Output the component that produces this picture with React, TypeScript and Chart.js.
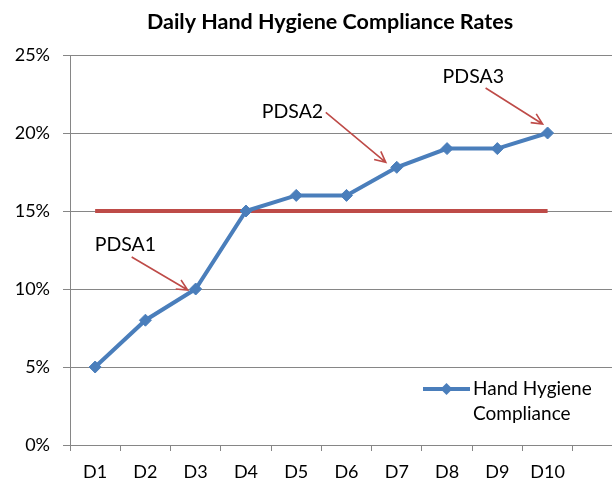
import React, { useEffect, useRef } from 'react';
import { Chart, registerables } from 'chart.js';

Chart.register(...registerables);

// ---- data ----
const categories = ['D1', 'D2', 'D3', 'D4', 'D5', 'D6', 'D7', 'D8', 'D9', 'D10'];
const complianceValues = [5, 8, 10, 15, 16, 16, 17.8, 19, 19, 20];
const targetValues = [15, 15, 15, 15, 15, 15, 15, 15, 15, 15];
const yTickValues = [0, 5, 10, 15, 20, 25];
const titleText = 'Daily Hand Hygiene Compliance Rates';
const seriesLabel = 'Hand Hygiene Compliance';
const legendLines = ['Hand Hygiene', 'Compliance'];
const annotationLabels = ['PDSA1', 'PDSA2', 'PDSA3'];
const annotationCategories = ['D3', 'D7', 'D10'];

// ---- styles / layout ----
const FONT = 'Lato';
const BLUE = '#4A7EBB';
const RED = '#BE4B48';
const GRID = '#868686';
// offsets relative to the annotated point: text (left, baseline), arrow start, arrow tip
const annotationOffsets = [
  { tx: -101, ty: -38, sx: -64, sy: -32, ex: -8, ey: 1 },
  { tx: -135, ty: -49, sx: -71, sy: -55, ex: -11, ey: -5 },
  { tx: -105, ty: -50, sx: -62, sy: -45, ex: -5, ey: -9 },
];

const annotationPlugin = {
  id: 'pdsaAnnotations',
  afterDatasetsDraw(chart: any) {
    const ctx = chart.ctx;
    const meta = chart.getDatasetMeta(0);
    ctx.save();
    annotationLabels.forEach((label, i) => {
      const idx = categories.indexOf(annotationCategories[i]);
      const pt = meta.data[idx];
      if (!pt) return;
      const o = annotationOffsets[i];
      ctx.fillStyle = '#000';
      ctx.font = `19.5px ${FONT}`;
      ctx.textAlign = 'left';
      ctx.textBaseline = 'alphabetic';
      ctx.fillText(label, pt.x + o.tx, pt.y + o.ty);
      const sx = pt.x + o.sx, sy = pt.y + o.sy, ex = pt.x + o.ex, ey = pt.y + o.ey;
      ctx.strokeStyle = RED;
      ctx.lineWidth = 1.6;
      ctx.beginPath();
      ctx.moveTo(sx, sy);
      ctx.lineTo(ex, ey);
      const ang = Math.atan2(ey - sy, ex - sx);
      const hl = 12, ha = 0.45;
      ctx.moveTo(ex - hl * Math.cos(ang - ha), ey - hl * Math.sin(ang - ha));
      ctx.lineTo(ex, ey);
      ctx.lineTo(ex - hl * Math.cos(ang + ha), ey - hl * Math.sin(ang + ha));
      ctx.stroke();
    });
    ctx.restore();
  },
};

const legendPlugin = {
  id: 'insideLegend',
  afterDraw(chart: any) {
    const ctx = chart.ctx;
    const a = chart.chartArea;
    const x0 = a.right - 200;
    const x1 = a.right - 153;
    const ly = a.bottom - 56;
    ctx.save();
    ctx.strokeStyle = BLUE;
    ctx.lineWidth = 4;
    ctx.beginPath();
    ctx.moveTo(x0, ly);
    ctx.lineTo(x1, ly);
    ctx.stroke();
    const cx = (x0 + x1) / 2;
    const r = 6;
    ctx.fillStyle = BLUE;
    ctx.beginPath();
    ctx.moveTo(cx, ly - r);
    ctx.lineTo(cx + r, ly);
    ctx.lineTo(cx, ly + r);
    ctx.lineTo(cx - r, ly);
    ctx.closePath();
    ctx.fill();
    ctx.fillStyle = '#000';
    ctx.font = `19px ${FONT}`;
    ctx.textAlign = 'left';
    ctx.textBaseline = 'alphabetic';
    legendLines.forEach((t, i) => {
      ctx.fillText(t, a.right - 150, a.bottom - 50 + i * 25);
    });
    ctx.restore();
  },
};

export default function App() {
  const ref = useRef<HTMLCanvasElement | null>(null);

  useEffect(() => {
    if (!ref.current) return;
    const chart = new Chart(ref.current, {
      type: 'line',
      data: {
        labels: [...categories, ''],
        datasets: [
          {
            label: seriesLabel,
            data: complianceValues,
            borderColor: BLUE,
            backgroundColor: BLUE,
            borderWidth: 4,
            pointStyle: 'rectRot',
            pointRadius: 6,
            pointBorderWidth: 1,
            pointBackgroundColor: BLUE,
            pointBorderColor: BLUE,
            tension: 0,
            fill: false,
          },
          {
            label: 'Target',
            data: targetValues,
            borderColor: RED,
            backgroundColor: RED,
            borderWidth: 4,
            pointRadius: 0,
            tension: 0,
            fill: false,
          },
        ],
      },
      options: {
        responsive: false,
        animation: false,
        devicePixelRatio: 1,
        layout: { padding: 0 },
        plugins: {
          legend: { display: false },
          tooltip: { enabled: false },
          title: {
            display: true,
            text: titleText,
            color: '#000',
            font: { family: FONT, size: 21.5, weight: 'bold', lineHeight: 1.2 },
            padding: { top: 9, bottom: 20.2 },
          },
        },
        scales: {
          x: {
            type: 'category',
            offset: true,
            grid: {
              display: true,
              drawOnChartArea: false,
              drawTicks: true,
              tickLength: 6,
              offset: true,
              color: GRID,
              lineWidth: 1,
            },
            border: { display: true, color: GRID, width: 1 },
            ticks: {
              color: '#000',
              font: { family: FONT, size: 18 },
              padding: 10,
              maxRotation: 0,
              autoSkip: false,
            },
            afterFit: (s: any) => {
              s.height = 36;
            },
          },
          y: {
            type: 'linear',
            min: yTickValues[0],
            max: yTickValues[yTickValues.length - 1],
            afterBuildTicks: (s: any) => {
              s.ticks = yTickValues.map((v) => ({ value: v }));
            },
            grid: {
              color: GRID,
              lineWidth: 1,
              drawTicks: true,
              tickLength: 7,
            },
            border: { display: true, color: GRID, width: 1 },
            ticks: {
              color: '#000',
              font: { family: FONT, size: 18 },
              padding: 13,
              callback: (v: any) => `${v}%`,
            },
            afterFit: (s: any) => {
              s.width = 70;
            },
          },
          yRightSpace: {
            type: 'linear',
            position: 'right',
            display: true,
            grid: { display: false, drawTicks: false },
            border: { display: false },
            ticks: { display: false },
            afterFit: (s: any) => {
              s.width = 37;
            },
          },
        },
      },
      plugins: [annotationPlugin, legendPlugin],
    } as any);
    return () => chart.destroy();
  }, []);

  return (
    <div
      style={{
        position: 'fixed',
        left: 0,
        top: 0,
        width: 612,
        height: 481,
        overflow: 'hidden',
        background: '#fff',
      }}
    >
      <canvas ref={ref} width={660} height={481} style={{ display: 'block' }} />
    </div>
  );
}
